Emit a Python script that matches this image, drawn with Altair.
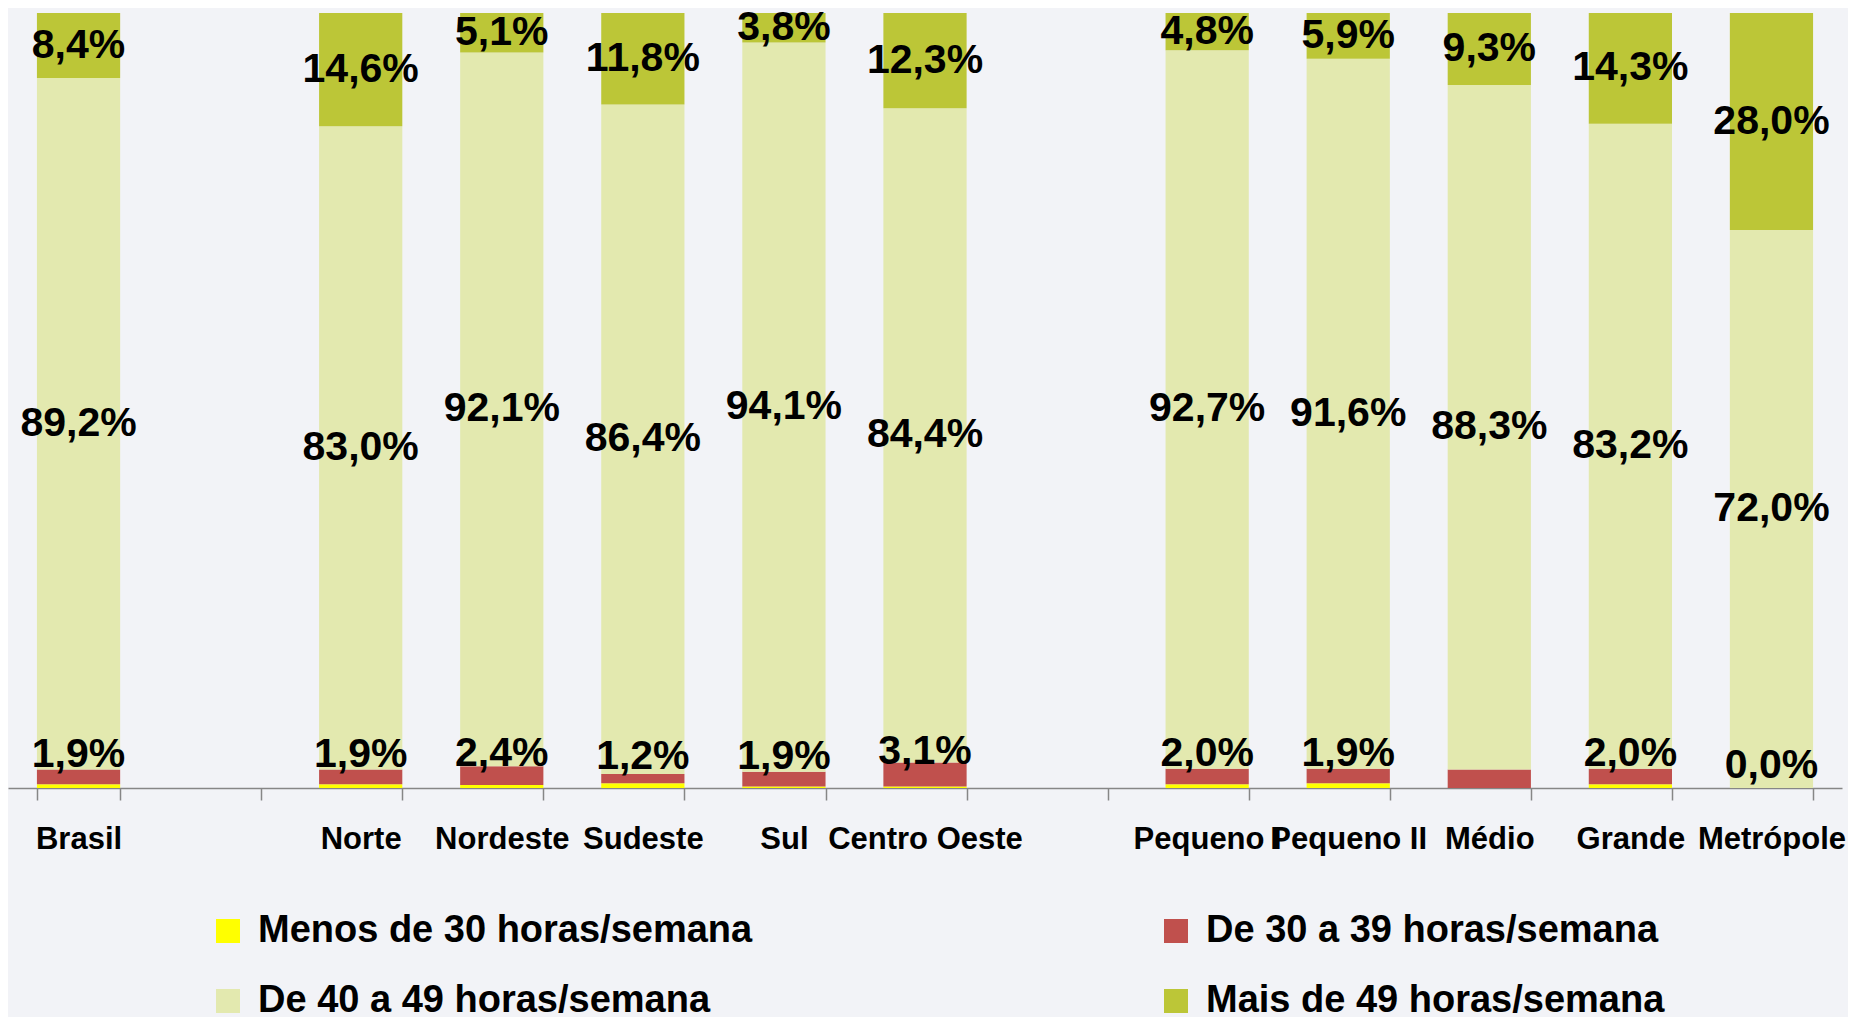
import altair as alt
import pandas as pd

categories = ["Brasil", " ", "Norte", "Nordeste", "Sudeste", "Sul", "Centro Oeste", "  ",
              "Pequeno I", "Pequeno II", "Médio", "Grande", "Metrópole"]

series_names = ["Menos de 30 horas/semana", "De 30 a 39 horas/semana",
                "De 40 a 49 horas/semana", "Mais de 49 horas/semana"]
series_colors = ["#FFFF00", "#C0504D", "#E3E9AF", "#BCC637"]

menos30 = [0.5, None, 0.5, 0.4, 0.6, 0.2, 0.2, None, 0.5, 0.6, 0.0, 0.5, 0.0]
de30_39 = [1.9, None, 1.9, 2.4, 1.2, 1.9, 3.1, None, 2.0, 1.9, 2.4, 2.0, 0.0]
de40_49 = [89.2, None, 83.0, 92.1, 86.4, 94.1, 84.4, None, 92.7, 91.6, 88.3, 83.2, 72.0]
mais49 = [8.4, None, 14.6, 5.1, 11.8, 3.8, 12.3, None, 4.8, 5.9, 9.3, 14.3, 28.0]

# which segments carry a data label
show_red = [True, False, True, True, True, True, True, False, True, True, False, True, True]

FONT = "'Liberation Sans', Arial, sans-serif"


def fmt(v):
    return f"{v:.1f}%".replace(".", ",")


rows = []
for i, cat in enumerate(categories):
    if de40_49[i] is None:
        continue
    vals = [menos30[i], de30_39[i], de40_49[i], mais49[i]]
    start = 0.0
    for k, v in enumerate(vals):
        end = start + v
        if k == 0:
            lab, kind = "", "none"
        elif k == 1:
            lab, kind = (fmt(v), "red") if show_red[i] else ("", "none")
        else:
            lab, kind = fmt(v), "mid"
        rows.append({"cat": cat, "serie": series_names[k], "ord": k,
                     "y0": start, "y1": end, "mid": (start + end) / 2,
                     "label": lab, "kind": kind})
        start = end

df = pd.DataFrame(rows)

xenc = alt.X("cat:N", sort=categories,
             scale=alt.Scale(domain=categories, paddingInner=0.41, paddingOuter=0.205),
             axis=alt.Axis(title=None, labelAngle=0, tickBand="extent", labelOverlap=False,
                           labelFont=FONT, labelFontSize=31, labelFontWeight="bold",
                           labelColor="black", labelLimit=400, labelPadding=24,
                           tickSize=12, tickColor="#868686", tickWidth=1.5,
                           domainColor="#868686", domainWidth=1.5, grid=False))

bars = alt.Chart(df).mark_bar(opacity=1).encode(
    x=xenc,
    y=alt.Y("y0:Q", scale=alt.Scale(domain=[0, 100], nice=False),
            axis=alt.Axis(values=list(range(0, 101, 10)), labels=False, ticks=False,
                          domain=False, title=None, grid=True, gridColor="#D5DDEA",
                          gridWidth=2)),
    y2="y1:Q",
    color=alt.Color("serie:N",
                    scale=alt.Scale(domain=series_names, range=series_colors),
                    legend=alt.Legend(title=None, orient="none", legendX=201, legendY=899,
                                      direction="horizontal",
                                      columns=2, columnPadding=404, rowPadding=32,
                                      symbolType="square", symbolSize=576,
                                      symbolStrokeWidth=0, symbolOpacity=1,
                                      labelFont=FONT, labelFontSize=38,
                                      labelFontWeight="bold", labelColor="black",
                                      labelLimit=1000, labelOffset=11)),
)

text_mid = alt.Chart(df).transform_filter(alt.datum.kind == "mid").mark_text(
    font=FONT, fontSize=41, fontWeight="bold", color="black", baseline="middle"
).encode(
    x=alt.X("cat:N", sort=categories),
    y=alt.Y("mid:Q", axis=None),
    text="label:N",
)

text_red = alt.Chart(df).transform_filter(alt.datum.kind == "red").mark_text(
    font=FONT, fontSize=41, fontWeight="bold", color="black", baseline="middle", dy=-22
).encode(
    x=alt.X("cat:N", sort=categories),
    y=alt.Y("mid:Q", axis=None),
    text="label:N",
)

chart = alt.layer(bars, text_mid, text_red).properties(
    width=1834, height=775,
    autosize=alt.AutoSizeParams(type="none"),
    padding={"left": 0, "top": 5, "right": 6, "bottom": 230},
    background="#F2F3F7",
).configure_view(stroke=None)

chart.save("out.html", embed_options={"renderer": "svg", "actions": False})
